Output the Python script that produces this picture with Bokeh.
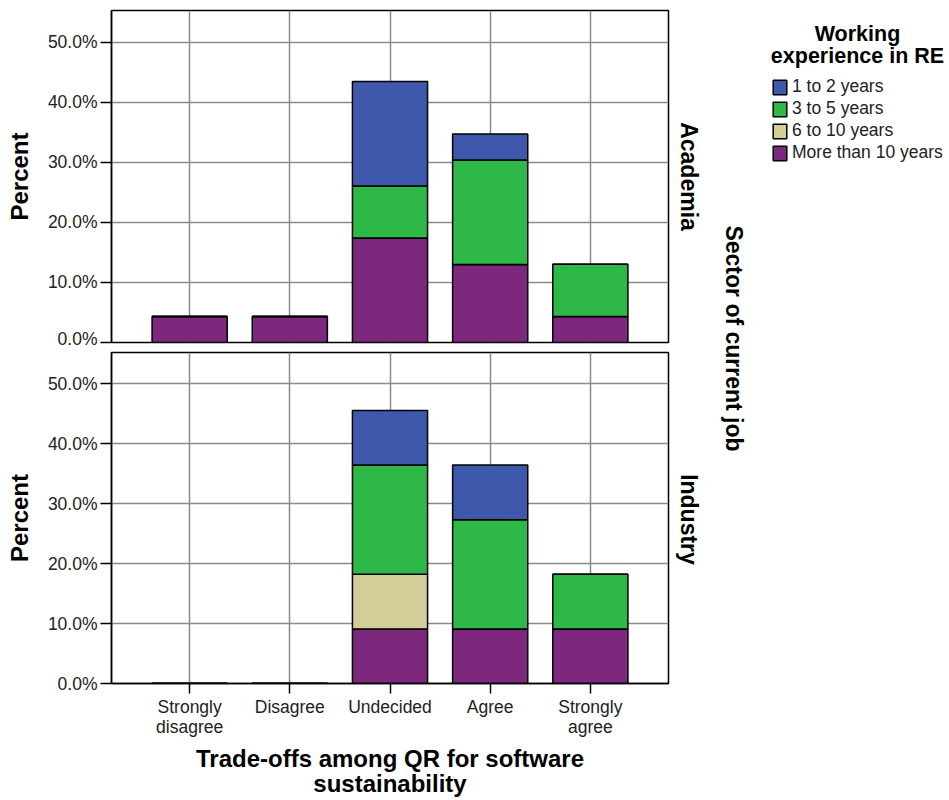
import math
from bokeh.plotting import figure
from bokeh.models import (FactorRange, Range1d, FixedTicker, PrintfTickFormatter, Grid,
                          CategoricalTicker, Label, Legend, LegendItem, ColumnDataSource)
from bokeh.layouts import column, row
from bokeh.embed import file_html
from bokeh.resources import INLINE

# ---------------- data ----------------
categories = ["Strongly\ndisagree", "Disagree", "Undecided", "Agree", "Strongly\nagree"]
groups = ["1 to 2 years", "3 to 5 years", "6 to 10 years", "More than 10 years"]
colors = ["#3E58AC", "#2EB848", "#D3CE97", "#7C287D"]
y_ticks = [0, 10, 20, 30, 40, 50]

# Academia (percent)
academia_1to2 = [0, 0, 17.4, 4.35, 0]
academia_3to5 = [0, 0, 8.7, 17.4, 8.7]
academia_6to10 = [0, 0, 0, 0, 0]
academia_more10 = [4.35, 4.35, 17.4, 13.0, 4.35]

# Industry (percent)
industry_1to2 = [0, 0, 9.1, 9.1, 0]
industry_3to5 = [0, 0, 18.2, 18.2, 9.1]
industry_6to10 = [0, 0, 9.1, 0, 0]
industry_more10 = [0, 0, 9.1, 9.1, 9.1]

FONT = "Liberation Sans"
GRID = "#8a8a8a"
TICK_FS = "17.5px"

stack_keys = ["more10", "y6to10", "y3to5", "y1to2"]
stack_colors = [colors[3], colors[2], colors[1], colors[0]]

MAIN_W = 670


def make_panel(height, y_end, top_b, bottom_b, src, with_xaxis):
    p = figure(width=MAIN_W, height=height,
               x_range=FactorRange(factors=categories, range_padding=0.112,
                                   range_padding_units="percent"),
               y_range=Range1d(0, y_end),
               x_axis_type=("auto" if with_xaxis else None),
               output_backend="svg", toolbar_location=None,
               min_border_left=111, min_border_right=2,
               min_border_top=top_b, min_border_bottom=bottom_b)
    p.background_fill_color = "white"
    p.border_fill_color = "white"
    p.outline_line_color = "black"
    p.outline_line_width = 1.5
    p.outline_line_alpha = 1

    p.vbar_stack(stack_keys, x="cat", width=0.75, source=src,
                 fill_color=stack_colors, line_color="black", line_width=1.5)

    ya = p.yaxis[0]
    ya.ticker = FixedTicker(ticks=y_ticks)
    ya.formatter = PrintfTickFormatter(format="%.1f%%")
    ya.axis_label = "Percent"
    ya.axis_label_text_font = FONT
    ya.axis_label_text_font_style = "bold"
    ya.axis_label_text_font_size = "24px"
    ya.axis_label_text_color = "black"
    ya.axis_label_standoff = 12
    ya.major_label_text_font = FONT
    ya.major_label_text_font_size = TICK_FS
    ya.major_label_text_color = "#222222"
    ya.major_label_standoff = 3
    ya.major_tick_out = 11
    ya.major_tick_in = 0
    ya.major_tick_line_color = "black"
    ya.major_tick_line_width = 1.5
    ya.minor_tick_out = 0
    ya.minor_tick_in = 0
    ya.axis_line_color = "black"
    ya.axis_line_width = 1.5

    p.ygrid.grid_line_color = GRID
    p.ygrid.grid_line_width = 1.5

    if with_xaxis:
        xa = p.xaxis[0]
        xa.major_label_text_font = FONT
        xa.major_label_text_font_size = TICK_FS
        xa.major_label_text_color = "#222222"
        xa.major_label_text_line_height = 1.02
        xa.major_label_standoff = 3
        xa.major_tick_out = 10
        xa.major_tick_in = 0
        xa.major_tick_line_color = "black"
        xa.major_tick_line_width = 1.5
        xa.axis_line_color = "black"
        xa.axis_line_width = 1.5
        xa.axis_label = "Trade-offs among QR for software\nsustainability"
        xa.axis_label_text_font = FONT
        xa.axis_label_text_font_style = "bold"
        xa.axis_label_text_font_size = "24px"
        xa.axis_label_text_color = "black"
        xa.axis_label_text_line_height = 0.93
        xa.axis_label_standoff = 5
        p.xgrid.grid_line_color = GRID
        p.xgrid.grid_line_width = 1.5
    else:
        p.add_layout(Grid(dimension=0, ticker=CategoricalTicker(),
                          grid_line_color=GRID, grid_line_width=1.5), "center")
    return p


src_a = ColumnDataSource(data=dict(cat=categories, y1to2=academia_1to2, y3to5=academia_3to5,
                                   y6to10=academia_6to10, more10=academia_more10))
src_i = ColumnDataSource(data=dict(cat=categories, y1to2=industry_1to2, y3to5=industry_3to5,
                                   y6to10=industry_6to10, more10=industry_more10))

top = make_panel(348, 55.33, 10, 6, src_a, False)
bottom = make_panel(452, 55.17, 4, 117, src_i, True)

# ---------------- right-side strip: facet labels + legend ----------------
SIDE_W = 949 - MAIN_W
side = figure(width=SIDE_W, height=800, x_range=Range1d(MAIN_W, 949), y_range=Range1d(800, 0),
              x_axis_type=None, y_axis_type=None, output_backend="svg",
              toolbar_location=None, min_border=0)
side.outline_line_color = None
side.background_fill_color = "white"
side.border_fill_color = "white"

for txt, x, y in [("Academia", 688, 176), ("Industry", 688, 519),
                  ("Sector of current job", 733, 338)]:
    side.add_layout(Label(x=x, y=y, text=txt, angle=-math.pi / 2,
                          text_align="center", text_baseline="middle",
                          text_font=FONT, text_font_style="bold",
                          text_font_size="23px", text_color="black"))

for txt, y in [("Working", 33), ("experience in RE", 55)]:
    side.add_layout(Label(x=857, y=y, text=txt, text_align="center", text_baseline="middle",
                          text_font=FONT, text_font_style="bold", text_font_size="21.5px",
                          text_color="black"))

nan = float("nan")
proxy_src = ColumnDataSource(data=dict(x=[nan], top=[nan]))
items = []
for g, c in zip(groups, colors):
    r = side.vbar(x="x", top="top", width=1, source=proxy_src,
                  fill_color=c, line_color="black", line_width=1.5)
    items.append(LegendItem(label=g, renderers=[r]))

legend = Legend(items=items, location=(101, 637), padding=0, margin=0, spacing=1,
                glyph_width=17, glyph_height=18, label_height=17, label_standoff=4,
                label_text_font=FONT, label_text_font_size=TICK_FS, label_text_color="#222222",
                border_line_color=None, background_fill_alpha=0)
side.add_layout(legend, "center")

layout = row(column(top, bottom), side)

open("out.html", "w").write(file_html(layout, INLINE))
